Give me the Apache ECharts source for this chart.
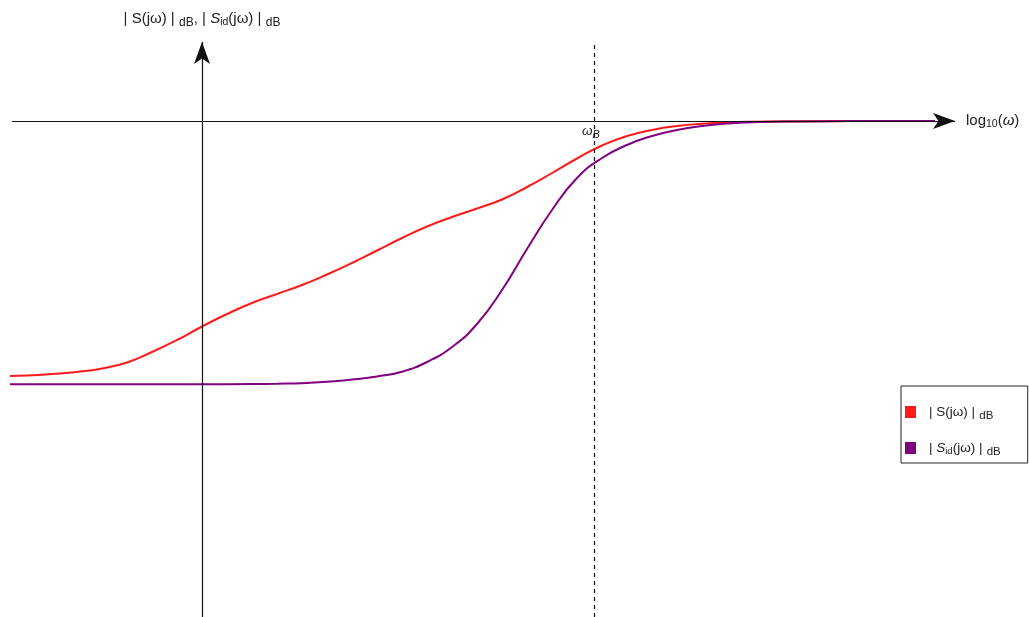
<!DOCTYPE html>
<html>
<head>
<meta charset="utf-8">
<title>Sensitivity magnitude</title>
<script src="https://cdn.jsdelivr.net/npm/echarts@6/dist/echarts.min.js"></script>
<style>
  html, body { margin: 0; padding: 0; background: #fff; }
  #chart { width: 1029px; height: 617px; }
</style>
</head>
<body>
<div id="chart"></div>
<script>
// log10(ω) positions (origin at the vertical axis) and magnitudes in dB
const sLogW = [-1.92, -1.75, -1.5, -1.25, -1.0, -0.75, -0.5, -0.25, 0, 0.25, 0.5, 0.75, 1.0, 1.25, 1.5, 1.75, 2.0, 2.25, 2.5, 2.75, 3.0, 3.25, 3.5, 3.75, 4.0, 4.25, 4.5, 4.75, 5.0, 5.25, 5.5, 6.0, 6.5, 7.0, 7.33];
const sDb   = [-25.5, -25.45, -25.3, -25.1, -24.75, -24.15, -23.1, -21.9, -20.55, -19.3, -18.2, -17.3, -16.4, -15.35, -14.2, -12.95, -11.7, -10.55, -9.6, -8.75, -7.85, -6.6, -5.2, -3.75, -2.45, -1.5, -0.9, -0.5, -0.27, -0.14, -0.08, -0.03, -0.01, 0, 0];

const sidLogW = [-1.92, -1.0, 0, 0.5, 0.75, 1.0, 1.25, 1.5, 1.75, 2.0, 2.25, 2.5, 2.75, 3.0, 3.25, 3.5, 3.75, 4.0, 4.25, 4.5, 4.75, 5.0, 5.25, 5.5, 6.0, 6.5, 7.0, 7.33];
const sidDb   = [-26.33, -26.33, -26.33, -26.3, -26.27, -26.22, -26.08, -25.85, -25.55, -25.07, -24.1, -22.6, -20.3, -16.9, -12.8, -8.9, -5.7, -3.7, -2.4, -1.5, -0.9, -0.5, -0.25, -0.12, -0.04, -0.01, 0, 0];

// bandwidth frequency marker
const omegaB = 3.92;

// axis extents
const xMin = -2.02, xMax = 8.27;
const yMin = -49.6, yMax = 12.1;

const seriesNames = ['S', 'Sid'];
const seriesColors = ['#ff1a1a', '#800080'];

const pair = (xs, ys) => xs.map((x, i) => [x, ys[i]]);

const textFont = 'Liberation Sans, Arial, sans-serif';
const mk = (size, extra) => Object.assign({ fontSize: size, color: '#222', fontFamily: textFont }, extra || {});
const richText = {
  n:    mk(13.5),
  it:   mk(13.5, { fontStyle: 'italic' }),
  sub:  mk(11.5, { padding: [8, 0, 0, 1] }),
  isub: mk(11, { fontStyle: 'italic', padding: [8, 0, 0, 0] }),
  lsub: mk(9.5,  { padding: [7, 0, 0, 0] }),
  // larger variants for axis titles
  N:    mk(15),
  IT:   mk(15, { fontStyle: 'italic' }),
  SUB:  mk(12, { padding: [9, 0, 0, 1] }),
  LSUB: mk(10.5, { padding: [7, 0, 0, 0] })
};

const chart = echarts.init(document.getElementById('chart'), null, { renderer: 'canvas' });

chart.setOption({
  animation: false,
  backgroundColor: '#fff',
  grid: { left: 0, right: 0, top: 0, bottom: 0 },
  xAxis: { type: 'value', min: xMin, max: xMax, show: false },
  yAxis: { type: 'value', min: yMin, max: yMax, show: false },
  legend: {
    orient: 'vertical',
    left: 901,
    top: 386,
    padding: [19, 27, 5, 4],
    itemGap: 19,
    itemWidth: 11,
    itemHeight: 12,
    icon: 'rect',
    backgroundColor: '#fff',
    borderColor: '#222',
    borderWidth: 1,
    data: seriesNames,
    formatter: function (name) {
      if (name === 'S') return '{n|| S(jω) |}{sub| dB}';
      return '{n|| }{it|S}{lsub|id}{n|(jω) |}{sub| dB}';
    },
    textStyle: { padding: [0, 0, 0, 8], rich: richText }
  },
  series: [
    {
      // coordinate axes and the ωB marker
      type: 'line',
      name: 'axes',
      data: [],
      silent: true,
      z: 1,
      markLine: {
        silent: true,
        animation: false,
        symbol: ['none', 'arrow'],
        symbolSize: [12, 22],
        lineStyle: { color: '#111', width: 1.2, type: 'solid' },
        data: [
          [
            { coord: [-1.9, 0], symbol: 'none' },
            { coord: [7.53, 0], symbol: 'arrow',
              label: { show: true, position: 'end', distance: 11,
                formatter: '{N|log}{LSUB|10}{N|(}{IT|ω}{N|)}', rich: richText } }
          ],
          [
            { coord: [0, yMin], symbol: 'none' },
            { coord: [0, 7.9], symbol: 'arrow',
              label: { show: true, position: 'end', distance: 13,
                formatter: '{N|| S(jω) |}{SUB| dB}{N|, | }{IT|S}{LSUB|id}{N|(jω) |}{SUB| dB}', rich: richText } }
          ],
          [
            { coord: [omegaB, yMin], symbol: 'none',
              lineStyle: { type: [4, 4], width: 1.2, color: '#111' } },
            { coord: [omegaB, 7.9], symbol: 'none' }
          ]
        ]
      },
      markPoint: {
        silent: true,
        symbol: 'circle',
        symbolSize: 0,
        data: [
          { coord: [omegaB - 0.03, -1.0],
            label: { show: true, position: 'inside',
              formatter: '{it|ω}{isub|B}', rich: richText } }
        ]
      }
    },
    {
      type: 'line',
      name: seriesNames[0],
      data: pair(sLogW, sDb),
      smooth: 0.5,
      showSymbol: false,
      z: 3,
      lineStyle: { color: seriesColors[0], width: 2 },
      itemStyle: { color: seriesColors[0] }
    },
    {
      type: 'line',
      name: seriesNames[1],
      data: pair(sidLogW, sidDb),
      smooth: 0.5,
      showSymbol: false,
      z: 4,
      lineStyle: { color: seriesColors[1], width: 2 },
      itemStyle: { color: seriesColors[1] }
    }
  ]
});
</script>
</body>
</html>
